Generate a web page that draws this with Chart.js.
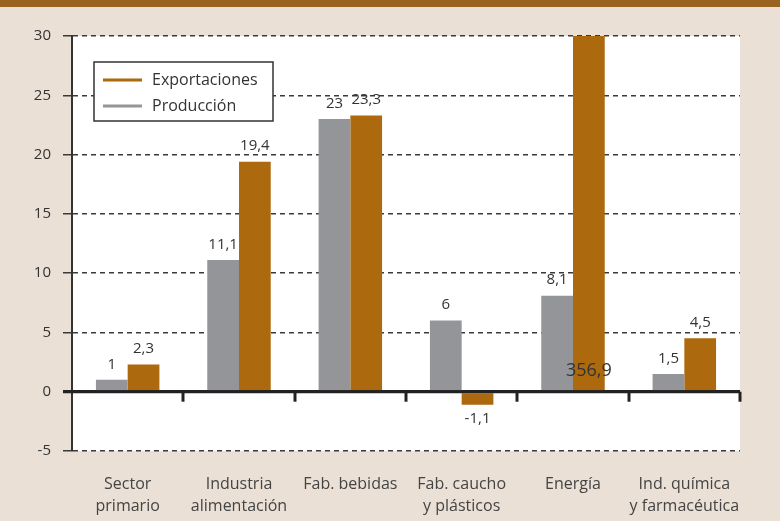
<!DOCTYPE html>
<html><head><meta charset="utf-8">
<script src="https://cdn.jsdelivr.net/npm/chart.js@4/dist/chart.umd.min.js"></script>
<style>html,body{margin:0;padding:0;background:#ebe0d5;overflow:hidden}#wrap{width:780px;height:521px;position:relative}</style>
</head><body><div id="wrap"><canvas id="c" width="780" height="521"></canvas></div>
<script>
const categories = [["Sector","primario"],["Industria","alimentación"],"Fab. bebidas",["Fab. caucho","y plásticos"],"Energía",["Ind. química","y farmacéutica"]];
const produccion = [1, 11.1, 23, 6, 8.1, 1.5];
const exportaciones = [2.3, 19.4, 23.3, -1.1, 356.9, 4.5];
const yMin = -5, yMax = 30, yStep = 5;
const seriesNames = ["Producción", "Exportaciones"];

const FONT = "'Open Sans', 'Noto Sans', sans-serif";
const fmt = v => String(v).replace('.', ',');

const decor = {
  id: 'decor',
  beforeDraw(chart) {
    const {ctx, chartArea: a} = chart;
    ctx.save();
    ctx.fillStyle = '#ebe0d5';
    ctx.fillRect(0, 0, chart.width, chart.height);
    ctx.fillStyle = '#9a6420';
    ctx.fillRect(0, 0, chart.width, 7);
    ctx.fillStyle = '#ffffff';
    ctx.fillRect(a.left, a.top, a.right - a.left, a.bottom - a.top);
    ctx.restore();
  },
  afterDatasetsDraw(chart) {
    const {ctx, chartArea: a, scales: {x, y}} = chart;
    const y0 = y.getPixelForValue(0);
    ctx.save();
    ctx.strokeStyle = '#222';
    ctx.lineWidth = 3;
    ctx.beginPath();
    ctx.moveTo(a.left - 9, y0);
    ctx.lineTo(a.right, y0);
    ctx.stroke();
    const n = chart.data.labels.length;
    const half = (x.getPixelForValue(1) - x.getPixelForValue(0)) / 2;
    for (let i = 0; i < n; i++) {
      const px = Math.round(x.getPixelForValue(i) + half);
      ctx.beginPath();
      ctx.moveTo(px, y0);
      ctx.lineTo(px, y0 + 10);
      ctx.stroke();
    }
    ctx.fillStyle = '#333';
    ctx.textAlign = 'center';
    chart.data.datasets.forEach((ds, di) => {
      const meta = chart.getDatasetMeta(di);
      meta.data.forEach((bar, i) => {
        const v = ds.data[i];
        const txt = fmt(v);
        if (v > yMax) {
          ctx.font = '18px ' + FONT;
          ctx.textBaseline = 'middle';
          ctx.fillText(txt, bar.x, y0 - 21);
        } else if (v >= 0) {
          ctx.font = '15px ' + FONT;
          ctx.textBaseline = 'bottom';
          ctx.fillText(txt, bar.x, bar.y - 8);
        } else {
          ctx.font = '15px ' + FONT;
          ctx.textBaseline = 'top';
          ctx.fillText(txt, bar.x, bar.y + 6);
        }
      });
    });
    const lx = 94, ly = 62, lw = 179, lh = 59;
    ctx.fillStyle = '#fff';
    ctx.fillRect(lx, ly, lw, lh);
    ctx.strokeStyle = '#333';
    ctx.lineWidth = 1.5;
    ctx.strokeRect(lx, ly, lw, lh);
    const order = [1, 0];
    ctx.font = '16px ' + FONT;
    ctx.textAlign = 'left';
    ctx.textBaseline = 'middle';
    order.forEach((di, k) => {
      const ds = chart.data.datasets[di];
      const yy = ly + 18 + k * 26;
      ctx.strokeStyle = ds.backgroundColor;
      ctx.lineWidth = 3;
      ctx.beginPath();
      ctx.moveTo(lx + 9, yy);
      ctx.lineTo(lx + 48, yy);
      ctx.stroke();
      ctx.fillStyle = '#333';
      ctx.fillText(ds.label, lx + 58, yy);
    });
    ctx.restore();
  }
};

new Chart(document.getElementById('c'), {
  type: 'bar',
  data: {
    labels: categories,
    datasets: [
      {label: seriesNames[0], data: produccion, backgroundColor: '#939598'},
      {label: seriesNames[1], data: exportaciones, backgroundColor: '#ad690e'}
    ]
  },
  options: {
    responsive: false,
    animation: false,
    devicePixelRatio: 1,
    layout: {padding: {top: 36, right: 40, left: 0, bottom: 0}},
    datasets: {bar: {barPercentage: 1, categoryPercentage: 0.57}},
    plugins: {legend: {display: false}, tooltip: {enabled: false}},
    scales: {
      x: {
        grid: {display: false},
        border: {display: false},
        ticks: {color: '#444', font: {family: FONT, size: 16, lineHeight: 1.38}, padding: 14, maxRotation: 0, autoSkip: false},
        afterFit: s => { s.height = 70; }
      },
      y: {
        min: yMin, max: yMax,
        ticks: {stepSize: yStep, color: '#333', font: {family: FONT, size: 15}, padding: 12, callback: v => String(v)},
        grid: {
          color: c => c.tick && c.tick.value === 0 ? '#222' : '#3a3a3a',
          lineWidth: c => c.tick && c.tick.value === 0 ? 3 : 1.5,
          tickLength: 9
        },
        border: {display: true, color: '#333', width: 2, dash: c => (c.tick && c.tick.value === 0) ? [] : [5, 4]},
        afterFit: s => { s.width = 72; }
      }
    }
  },
  plugins: [decor]
});
</script></body></html>
